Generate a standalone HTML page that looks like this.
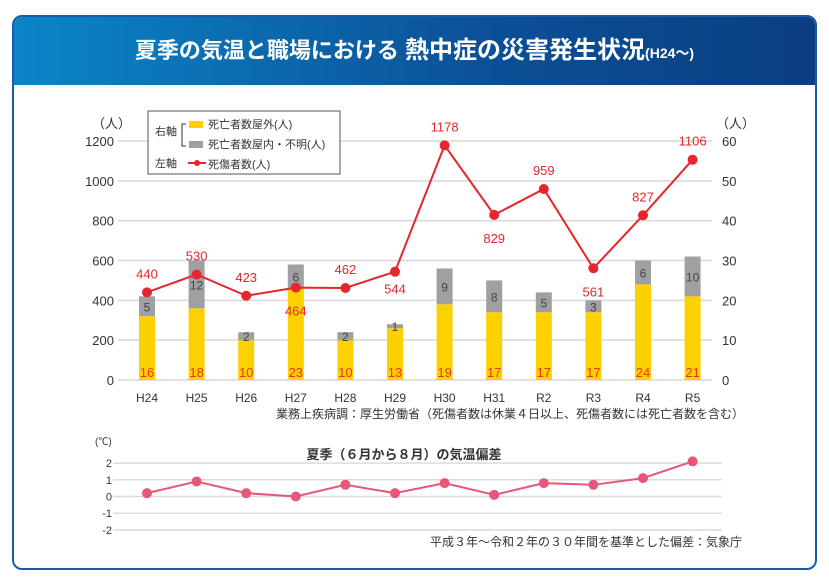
<!DOCTYPE html>
<html><head><meta charset="utf-8"><style>
body{margin:0;width:829px;height:578px;background:#fff;overflow:hidden;font-family:"Liberation Sans","Noto Sans CJK JP",sans-serif}
#frame{position:absolute;left:12px;top:15px;width:801px;height:551px;border:2px solid #1a5aa8;border-radius:10px;overflow:hidden}
#hdr{position:absolute;left:0;top:0;width:100%;height:68px;background:linear-gradient(90deg,#0a86c8,#0c4f96 60%,#0a3f80);color:#fff;text-align:center;line-height:68px;font-size:22px;font-weight:bold}
svg{position:absolute;left:0;top:0}
</style></head><body>
<div id="frame">
<div id="hdr">夏季の気温と職場における <span style="font-size:24px">熱中症の災害発生状況</span><span style="font-size:14px">(H24～)</span></div>
</div>
<svg id="c" width="829" height="578"></svg>
<script>
const categories=["H24","H25","H26","H27","H28","H29","H30","H31","R2","R3","R4","R5"];
const outdoorDeaths=[16,18,10,23,10,13,19,17,17,17,24,21];
const indoorDeaths=[5,12,2,6,2,1,9,8,5,3,6,10];
const casualties=[440,530,423,464,462,544,1178,829,959,561,827,1106];
const tempAnomaly=[0.2,0.9,0.2,0,0.7,0.2,0.8,0.1,0.8,0.7,1.1,2.1];
const leftTicks=[0,200,400,600,800,1000,1200];
const rightTicks=[0,10,20,30,40,50,60];
const tempTicks=[2,1,0,-1,-2];
const casualtyLabelDy=[-14,-14,-14,28,-14,22,-14,28,-14,28,-14,-14];

const svg=document.getElementById('c');const NS='http://www.w3.org/2000/svg';
function mk(tag,attrs,txt){const e=document.createElementNS(NS,tag);for(const k in attrs)e.setAttribute(k,attrs[k]);if(txt!==undefined)e.textContent=txt;svg.appendChild(e);return e;}
const xC=i=>147+i*49.6;
const yL=v=>380-v*(239/1200);
const yR=v=>380-v*(239/60);
const yT=v=>496.5-v*16.7;
leftTicks.forEach(v=>{let g=mk('line',{x1:118,x2:712,y1:yL(v),y2:yL(v),stroke:'#d8d8d8','stroke-width':1.5});

let t=mk('text',{x:114,y:yL(v)+5,'text-anchor':'end','font-size':13,fill:'#333'},v);
});
rightTicks.forEach(v=>{let t=mk('text',{x:722,y:yR(v)+5,'font-size':13,fill:'#333'},v);
});
let u1=mk('text',{x:92,y:128,'font-size':13,fill:'#333'},'（人）');
let u2=mk('text',{x:716,y:128,'font-size':13,fill:'#333'},'（人）');
categories.forEach((c,i)=>{const x=xC(i)-8;
let b1=mk('rect',{x:x,y:yR(outdoorDeaths[i]),width:16,height:yR(0)-yR(outdoorDeaths[i]),fill:'#fdd000'});

let top=outdoorDeaths[i]+indoorDeaths[i];
let b2=mk('rect',{x:x,y:yR(top),width:16,height:yR(outdoorDeaths[i])-yR(top),fill:'#a0a0a4'});

let t1=mk('text',{x:xC(i),y:377,'text-anchor':'middle','font-size':13,fill:'#e8380d'},outdoorDeaths[i]);

let t2=mk('text',{x:xC(i),y:(yR(top)+yR(outdoorDeaths[i]))/2+5,'text-anchor':'middle','font-size':12,fill:'#444'},indoorDeaths[i]);

let xl=mk('text',{x:xC(i),y:402,'text-anchor':'middle','font-size':12,fill:'#333'},c);
});
let p=mk('polyline',{points:casualties.map((v,i)=>xC(i)+','+yL(v)).join(' '),fill:'none',stroke:'#e5262c','stroke-width':2});

casualties.forEach((v,i)=>{let d=mk('circle',{cx:xC(i),cy:yL(v),r:5,fill:'#e5262c'});

let t=mk('text',{x:xC(i),y:yL(v)+casualtyLabelDy[i],'text-anchor':'middle','font-size':13,fill:'#e5262c'},v);
});
let lg=mk('rect',{x:148,y:111,width:192,height:63,fill:'#fff',stroke:'#555','stroke-width':1});

mk('text',{x:155,y:135,'font-size':11,fill:'#333'},'右軸');
mk('path',{d:'M186 124 H182 V146 H186',fill:'none',stroke:'#333'});
mk('rect',{x:189,y:121,width:14,height:7,fill:'#fdd000'});
let le1=mk('text',{x:208,y:128,'font-size':11,fill:'#333'},'死亡者数屋外(人)');
mk('rect',{x:189,y:141,width:14,height:7,fill:'#a0a0a4'});
let le2=mk('text',{x:208,y:148,'font-size':11,fill:'#333'},'死亡者数屋内・不明(人)');
mk('text',{x:155,y:167,'font-size':11,fill:'#333'},'左軸');
mk('line',{x1:188,x2:206,y1:163,y2:163,stroke:'#e5262c','stroke-width':2});
mk('circle',{cx:197,cy:163,r:3,fill:'#e5262c'});
let le3=mk('text',{x:208,y:168,'font-size':11,fill:'#333'},'死傷者数(人)');
let src1=mk('text',{x:744,y:418,'text-anchor':'end','font-size':12,fill:'#333'},'業務上疾病調：厚生労働省（死傷者数は休業４日以上、死傷者数には死亡者数を含む）');

tempTicks.forEach(v=>{let g=mk('line',{x1:113,x2:722,y1:yT(v),y2:yT(v),stroke:'#dcdcdc','stroke-width':1.5});

let t=mk('text',{x:112,y:yT(v)+4,'text-anchor':'end','font-size':11,fill:'#333'},v);
});
let tu=mk('text',{x:95,y:445,'font-size':10,fill:'#333'},'(℃)');
let tt=mk('text',{x:404,y:459,'text-anchor':'middle','font-size':13,'font-weight':'bold',fill:'#333'},'夏季（６月から８月）の気温偏差');

let tp=mk('polyline',{points:tempAnomaly.map((v,i)=>xC(i)+','+yT(v)).join(' '),fill:'none',stroke:'#e8577a','stroke-width':2});

tempAnomaly.forEach((v,i)=>{let d=mk('circle',{cx:xC(i),cy:yT(v),r:5,fill:'#e8577a'});
});
let src2=mk('text',{x:742,y:546,'text-anchor':'end','font-size':12,fill:'#333'},'平成３年～令和２年の３０年間を基準とした偏差：気象庁');

</script>
</body></html>
